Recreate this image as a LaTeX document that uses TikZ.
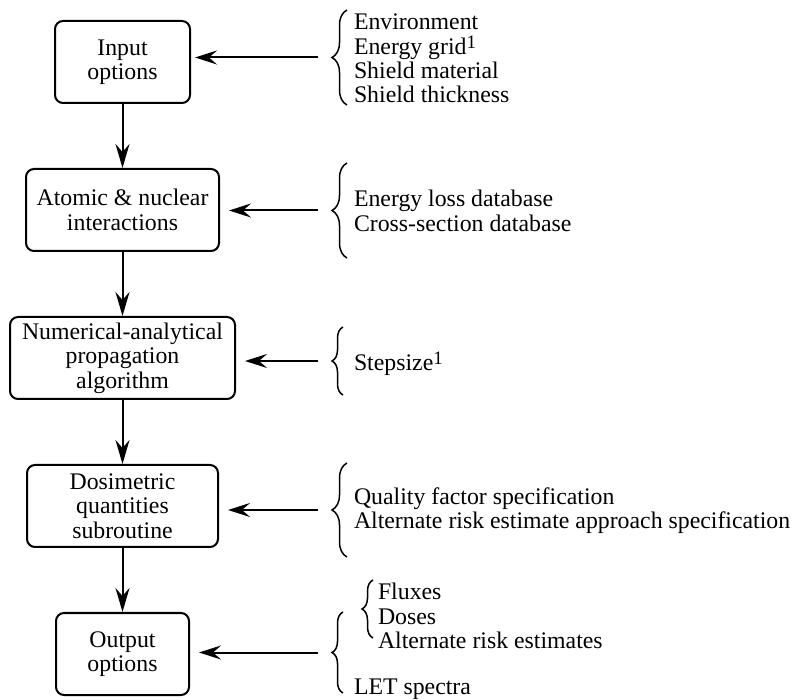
\documentclass[tikz,border=0pt]{standalone}
\usepackage{fontspec}
\setmainfont{Liberation Serif}
\usetikzlibrary{positioning, arrows.meta, decorations.pathreplacing}

\newcommand{\foot}{\raisebox{0.55ex}{\fontsize{9.5}{10}\selectfont 1}}

\begin{document}
\begin{tikzpicture}[x=0.5pt, y=-0.5pt, node distance=74pt,
    font=\fontsize{11.9}{12.2}\selectfont, line width=1pt]

\tikzstyle{block} = [
    rectangle,
    draw,
    rounded corners=4pt,
    align=center,
    inner ysep=2pt,
    minimum height=41pt
];
\tikzstyle{list} = [align=left, inner sep=0pt, anchor=west];
\tikzstyle{feed} = [-{Stealth[length=11pt, width=7pt, inset=4pt]}, shorten <=7pt, shorten >=4.5pt];
\tikzstyle{flow} = [-{Stealth[length=12pt, width=7pt, inset=4pt]}];
\tikzstyle{bigbrace} = [decorate, decoration={brace, amplitude=7.5pt}, line width=0.75pt];
\tikzstyle{smallbrace} = [decorate, decoration={brace, amplitude=5.5pt}, line width=0.75pt];

\useasboundingbox (0,0) rectangle (799,700);

\node[block, minimum width=67.5pt] (input) at (122.5,62) {Input\\options};
\node[block, minimum width=96.5pt, below of=input] (atomic) {Atomic \& nuclear\\interactions};
\node[block, minimum width=112.5pt, below of=atomic] (prop) {Numerical-analytical\\propagation\\algorithm};
\node[block, minimum width=95.5pt, below of=prop] (dosi) {Dosimetric\\quantities\\subroutine};
\node[block, minimum width=66.5pt, below of=dosi] (output) {Output\\options};

\draw[flow] (input) -- (atomic);
\draw[flow] (atomic) -- (prop);
\draw[flow] (prop) -- (dosi);
\draw[flow] (dosi) -- (output);

% option lists
\node[list] (envlist) at (353,58.5) {Environment\\Energy grid\foot\\Shield material\\Shield thickness};
\node[list] (datalist) at (353,211) {Energy loss database\\Cross-section database};
\node[list] (steplist) at (353,364) {Stepsize\foot};
\node[list] (qflist) at (353,510.5) {Quality factor specification\\Alternate risk estimate approach specification};
\node[list] (outlist) at (377,616) {Fluxes\\Doses\\Alternate risk estimates};
\node[list, anchor=base west] (letlist) at (353,694) {LET spectra};

% braces
\draw[bigbrace] (347,105) -- (347,10);
\draw[bigbrace] (347,258) -- (347,163);
\draw[smallbrace] (343,395) -- (343,327);
\draw[bigbrace] (347,557) -- (347,463);
\draw[smallbrace] (343,693) -- (343,612);
\draw[smallbrace] (373,638) -- (373,580);

\coordinate (inputtip) at (332,57.5);
\coordinate (atomictip) at (332,210.5);
\coordinate (proptip) at (332,361);
\coordinate (dositip) at (332,510);
\coordinate (outputtip) at (332,652.5);

\draw[feed, shorten >=2pt] (inputtip) -- (inputtip -| input.east);
\draw[feed] (atomictip) -- (atomictip -| atomic.east);
\draw[feed] (proptip) -- (proptip -| prop.east);
\draw[feed] (dositip) -- (dositip -| dosi.east);
\draw[feed] (outputtip) -- (outputtip -| output.east);

\end{tikzpicture}
\end{document}
